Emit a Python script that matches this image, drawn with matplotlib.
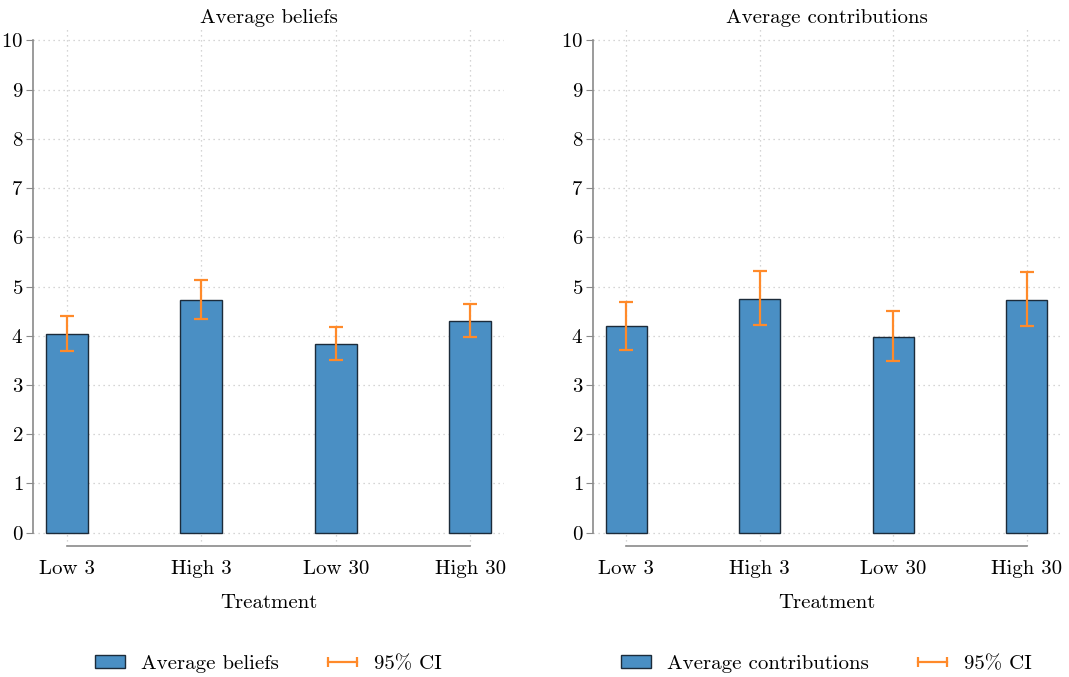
import matplotlib
matplotlib.use('Agg')
import matplotlib.pyplot as plt
from matplotlib.patches import Patch
from matplotlib.lines import Line2D
from matplotlib.legend_handler import HandlerLine2D
import numpy as np

plt.rcParams['font.family'] = ['cmr10', 'DejaVu Serif']
plt.rcParams['axes.formatter.use_mathtext'] = True
plt.rcParams['font.size'] = 14

treatments = ['Low 3', 'High 3', 'Low 30', 'High 30']

beliefs = [4.04, 4.73, 3.83, 4.30]
beliefs_lo = [3.69, 4.35, 3.51, 3.97]
beliefs_hi = [4.40, 5.13, 4.17, 4.65]

contrib = [4.19, 4.75, 3.98, 4.73]
contrib_lo = [3.72, 4.21, 3.48, 4.19]
contrib_hi = [4.68, 5.32, 4.51, 5.29]

BAR = '#4a8fc4'
EDGE = '#1c2b3a'
CI = '#ff8a2a'
SPINE = '#8a8a8a'
FS = 15

W, H = 1069, 677
fig = plt.figure(figsize=(W / 100, H / 100), dpi=100)


def panel(left_px, right_px, title, vals, lo, hi, label):
    ax = fig.add_axes([left_px / W, (H - 546) / H, (right_px - left_px) / W, 519 / H])
    x = np.arange(len(treatments))
    vals = np.array(vals)
    err = [vals - np.array(lo), np.array(hi) - vals]
    ax.bar(x, vals, width=0.31, color=BAR, edgecolor=EDGE, linewidth=1.0, zorder=3)
    ax.errorbar(x, vals, yerr=err, fmt='none', ecolor=CI, elinewidth=1.6,
                capsize=5, capthick=1.6, zorder=4)
    ax.set_xlim(-0.25, 3.25)
    ax.set_ylim(-0.27, 10.27)
    ax.set_yticks(range(0, 11))
    ax.set_xticks(x)
    ax.set_xticklabels(treatments)
    ax.grid(True, linestyle=(0, (1, 3)), color='#c8c8c8', linewidth=0.9, zorder=0)
    for s in ['top', 'right']:
        ax.spines[s].set_visible(False)
    ax.spines['left'].set_bounds(0, 10)
    ax.spines['bottom'].set_bounds(0, 3)
    ax.spines['left'].set_color(SPINE)
    ax.spines['bottom'].set_color(SPINE)
    ax.spines['left'].set_linewidth(1.2)
    ax.spines['bottom'].set_linewidth(1.2)
    ax.tick_params(axis='y', length=5, color=SPINE, pad=2, labelsize=FS)
    ax.tick_params(axis='x', length=0, pad=10, labelsize=FS)
    ax.set_title(title, fontsize=FS, pad=2)
    ax.set_xlabel('Treatment', fontsize=FS, labelpad=12)
    ci_handle = Line2D([0, 1], [0, 0], color=CI, lw=1.6, marker='|', markersize=7,
                       markeredgewidth=1.6)
    handles = [Patch(facecolor=BAR, edgecolor=EDGE, linewidth=1.0), ci_handle]
    cx = (left_px + right_px) / 2 / W
    fig.legend(handles, [label, '95% CI'], loc='center', bbox_to_anchor=(cx, 0.0192),
               ncol=2, frameon=False, numpoints=2, handlelength=1.4, handleheight=0.55,
               handletextpad=0.8, columnspacing=2.35, fontsize=15,
               handler_map={ci_handle: HandlerLine2D(marker_pad=0)})
    return ax


panel(33, 504, 'Average beliefs', beliefs, beliefs_lo, beliefs_hi, 'Average beliefs')
panel(593, 1060, 'Average contributions', contrib, contrib_lo, contrib_hi,
      'Average contributions')

fig.savefig('out.png', dpi=100)
